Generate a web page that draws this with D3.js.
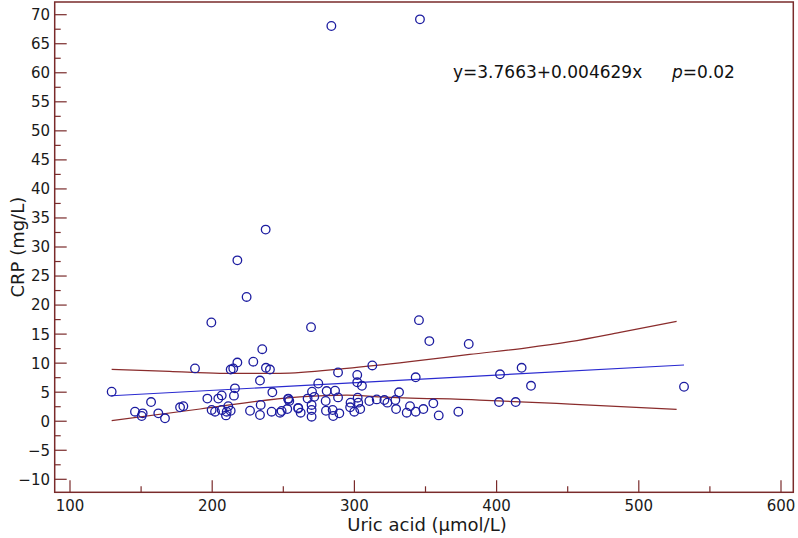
<!DOCTYPE html>
<html>
<head>
<meta charset="utf-8">
<script src="https://cdn.jsdelivr.net/npm/d3@7"></script>
<style>
  html, body { margin: 0; padding: 0; background: #fff; }
  svg { display: block; }
  text { font-family: "DejaVu Sans", Verdana, sans-serif; }
</style>
</head>
<body>
<svg id="chart" width="798" height="538"></svg>
<script>
// ---- data ----
const uricAcid = [
  129.3, 187.9, 213.0, 214.8, 217.7, 228.9, 235.2, 237.8, 240.6, 233.6,
  242.3, 253.5, 254.2, 260.5, 216.0, 215.3, 206.7, 204.3, 196.6, 157.0,
  145.7, 151.1, 150.4, 162.1, 166.8, 177.4, 179.7, 199.6, 202.0, 206.7,
  211.3, 210.2, 209.7, 213.0, 226.6, 234.1, 233.6, 241.8, 247.7, 248.8,
  352.7, 380.4, 312.6, 288.5, 302.0, 302.0, 305.3, 343.1, 274.6, 270.2,
  280.5, 286.4, 331.4, 253.5, 267.1, 271.8, 279.8, 288.5, 302.3, 302.7,
  297.3, 310.5, 315.7, 321.1, 323.2, 328.8, 329.3, 339.1, 336.8, 343.1,
  348.5, 355.5, 359.3, 373.1, 252.8, 260.5, 262.2, 269.9, 269.9, 269.9,
  280.0, 284.7, 285.1, 289.4, 297.0, 299.9, 304.1,
  402.4, 417.6, 424.2, 401.7, 413.4, 531.8,
  283.8, 346.1, 237.6, 217.7, 224.2, 199.4, 269.5, 345.4
];
const crp = [
  5.08, 9.1, 8.9, 9.1, 10.1, 10.25, 12.4, 9.2, 8.9, 7.0,
  4.98, 3.8, 3.5, 2.2, 5.66, 4.4, 4.45, 3.9, 3.9, 3.3,
  1.64, 1.36, 0.9, 1.36, 0.5, 2.4, 2.6, 1.93, 1.64, 1.93,
  2.6, 1.64, 1.0, 1.8, 1.8, 2.8, 1.07, 1.64, 1.47, 1.76,
  13.8, 13.3, 9.6, 8.4, 7.96, 6.7, 6.1, 7.56, 6.5, 5.08,
  5.2, 5.25, 4.98, 3.9, 3.9, 4.2, 3.48, 4.1, 4.05, 3.2,
  3.2, 3.48, 3.76, 3.65, 3.2, 3.65, 2.1, 2.6, 1.47, 1.64,
  2.1, 3.08, 1.0, 1.64, 2.1, 2.3, 1.47, 2.8, 1.93, 0.78,
  1.8, 1.93, 0.9, 1.36, 2.4, 1.64, 2.1,
  8.08, 9.2, 6.1, 3.3, 3.3, 5.94,
  68.05, 69.2, 33.0, 27.7, 21.4, 17.0, 16.2, 17.4
];

// fitted line as drawn (end points)
const fitX = [129.3, 531.8];
const fitY = [4.39, 9.68];

// confidence band curves
const upperX = [129.3, 170, 205.5, 247.7, 294.6, 339, 381, 420, 451.6, 486.8, 526.6];
const upperY = [8.94, 8.6, 8.25, 8.25, 9.1, 10.25, 11.5, 12.6, 13.7, 15.3, 17.2];
const lowerX = [129.3, 191.4, 261.7, 294.6, 318, 388, 451.6, 526.6];
const lowerY = [0.09, 2.1, 4.2, 4.5, 4.2, 3.65, 2.96, 2.05];

// axis ticks
const xMajorTicks = [100, 200, 300, 400, 500, 600];
const xMinorTicks = [150, 250, 350, 450, 550];
const yMajorTicks = [-10, -5, 0, 5, 10, 15, 20, 25, 30, 35, 40, 45, 50, 55, 60, 65, 70];
const yMinorTicks = [-7.5, -2.5, 2.5, 7.5, 12.5, 17.5, 22.5, 27.5, 32.5, 37.5, 42.5, 47.5, 52.5, 57.5, 62.5, 67.5];

const xTitle = "Uric acid (µmol/L)";
const yTitle = "CRP (mg/L)";
const equationText = "y=3.7663+0.004629x";
const pText = "=0.02";

// ---- layout ----
const svg = d3.select("#chart");
const frame = { left: 54.7, right: 793.3, top: 2, bottom: 492.3 };
const x = d3.scaleLinear().domain([100, 600]).range([70, 781]);
const y = d3.scaleLinear().domain([70, -10]).range([14.7, 479.3]);

const frameColor = "#7a2b2b";
const axisText = "#1a1a1a";

// frame
svg.append("rect")
  .attr("x", frame.left).attr("y", frame.top)
  .attr("width", frame.right - frame.left).attr("height", frame.bottom - frame.top)
  .attr("fill", "none").attr("stroke", frameColor).attr("stroke-width", 1.5);

// x ticks (inward)
const gx = svg.append("g");
gx.selectAll("line.maj").data(xMajorTicks).join("line")
  .attr("x1", d => x(d)).attr("x2", d => x(d))
  .attr("y1", frame.bottom).attr("y2", frame.bottom - 12)
  .attr("stroke", frameColor).attr("stroke-width", 1.2);
gx.selectAll("line.min").data(xMinorTicks).join("line")
  .attr("x1", d => x(d)).attr("x2", d => x(d))
  .attr("y1", frame.bottom).attr("y2", frame.bottom - 6)
  .attr("stroke", frameColor).attr("stroke-width", 1.2);
gx.selectAll("text").data(xMajorTicks).join("text")
  .attr("x", d => x(d)).attr("y", 511)
  .attr("text-anchor", "middle")
  .attr("font-size", 15).attr("fill", axisText)
  .text(d => d);

// y ticks (inward)
const gy = svg.append("g");
gy.selectAll("line.maj").data(yMajorTicks).join("line")
  .attr("x1", frame.left).attr("x2", frame.left + 12)
  .attr("y1", d => y(d)).attr("y2", d => y(d))
  .attr("stroke", frameColor).attr("stroke-width", 1.2);
gy.selectAll("line.min").data(yMinorTicks).join("line")
  .attr("x1", frame.left).attr("x2", frame.left + 6)
  .attr("y1", d => y(d)).attr("y2", d => y(d))
  .attr("stroke", frameColor).attr("stroke-width", 1.2);
gy.selectAll("text").data(yMajorTicks).join("text")
  .attr("x", 50).attr("y", d => y(d))
  .attr("dy", "0.36em")
  .attr("text-anchor", "end")
  .attr("font-size", 15).attr("fill", axisText)
  .text(d => d < 0 ? "\u2212" + Math.abs(d) : d);

// axis titles
svg.append("text")
  .attr("x", (frame.left + frame.right) / 2 + 3).attr("y", 531)
  .attr("text-anchor", "middle").attr("font-size", 18).attr("fill", axisText)
  .text(xTitle);
svg.append("text")
  .attr("transform", `translate(24, ${(frame.top + frame.bottom) / 2}) rotate(-90)`)
  .attr("text-anchor", "middle").attr("font-size", 18).attr("fill", axisText)
  .text(yTitle);

// confidence bands
const line = d3.line().x(d => x(d[0])).y(d => y(d[1])).curve(d3.curveMonotoneX);
svg.append("path")
  .attr("d", line(d3.zip(upperX, upperY)))
  .attr("fill", "none").attr("stroke", "#8a2c2c").attr("stroke-width", 1.2);
svg.append("path")
  .attr("d", line(d3.zip(lowerX, lowerY)))
  .attr("fill", "none").attr("stroke", "#8a2c2c").attr("stroke-width", 1.2);

// fitted line
svg.append("path")
  .attr("d", d3.line().x(d => x(d[0])).y(d => y(d[1]))(d3.zip(fitX, fitY)))
  .attr("fill", "none").attr("stroke", "#2a2ad0").attr("stroke-width", 1.2);

// points
svg.append("g").selectAll("circle").data(d3.zip(uricAcid, crp)).join("circle")
  .attr("cx", d => x(d[0])).attr("cy", d => y(d[1]))
  .attr("r", 4.3)
  .attr("fill", "none").attr("stroke", "#1c1ca0").attr("stroke-width", 1.3);

// equation
const eq = svg.append("text")
  .attr("x", 453).attr("y", 78).attr("font-size", 17).attr("fill", "#111");
eq.append("tspan").text(equationText);
eq.append("tspan").attr("x", 672).attr("font-style", "italic").text("p");
eq.append("tspan").text(pText);
</script>
</body>
</html>
